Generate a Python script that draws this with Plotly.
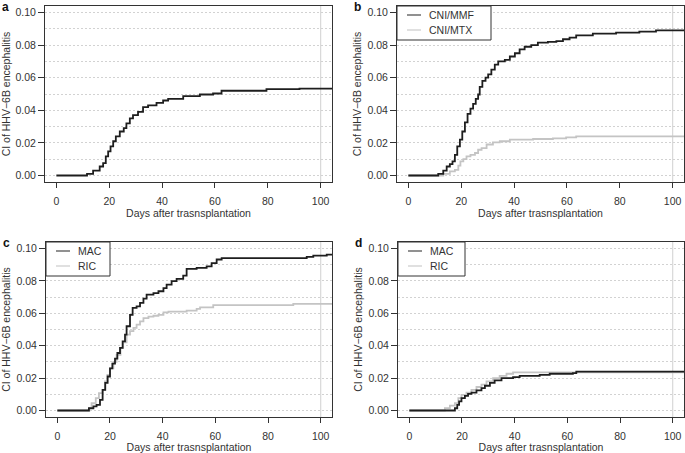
import plotly.graph_objects as go
from plotly.subplots import make_subplots

# cumulative incidence curves, step points (day, CI)
# a: all patients
a_days = [0, 11.6, 13.9, 16.4, 17.7, 18.7, 19.6, 20.5, 21.5, 22.5, 24, 25.5, 26.5, 27.8,
          29, 30.9, 32.8, 34.7, 37.9, 40.4, 42.3, 48, 54.3, 59.3, 62.5, 79.5, 92, 106]
a_ci = [0, 0.001, 0.003, 0.0055, 0.0076, 0.0117, 0.0148, 0.0179, 0.021, 0.024, 0.027, 0.029,
        0.032, 0.035, 0.037, 0.039, 0.042, 0.043, 0.0446, 0.046, 0.047, 0.0487, 0.0497,
        0.0503, 0.052, 0.053, 0.0533, 0.0536]

# b: GVHD prophylaxis
mmf_days = [0, 11.3, 13.2, 14.5, 15.7, 16.7, 17.6, 18.5, 19.5, 20.4, 21.4, 22.4, 23.5, 24.5,
            25.5, 26.4, 27, 28, 29.2, 30.2, 31.4, 32.7, 34, 36.5, 38.4, 40.3, 42.1, 44, 46.5,
            49, 52.8, 56, 58.5, 61, 63.5, 69.8, 78.6, 87.4, 93.7, 106]
mmf_ci = [0, 0.001, 0.003, 0.0055, 0.007, 0.0086, 0.0127, 0.0179, 0.022, 0.027, 0.0326,
          0.0378, 0.041, 0.044, 0.047, 0.0497, 0.0544, 0.058, 0.060, 0.062, 0.065, 0.068,
          0.070, 0.071, 0.073, 0.075, 0.0774, 0.079, 0.080, 0.0815, 0.082, 0.0825, 0.0836,
          0.0846, 0.086, 0.087, 0.0877, 0.0883, 0.089, 0.0897]
mtx_days = [0, 13.2, 15.7, 17.6, 18.9, 19.7, 20.8, 22, 23.5, 25.2, 26.4, 27.7, 29.6, 32,
            34.6, 38.4, 47.2, 54.7, 59.7, 63.5, 106]
mtx_ci = [0, 0.001, 0.0025, 0.0035, 0.006, 0.0086, 0.010, 0.0117, 0.0127, 0.0138, 0.0158,
          0.0168, 0.019, 0.0203, 0.021, 0.022, 0.0224, 0.0228, 0.0234, 0.024, 0.024]

# c: conditioning intensity
c_mac_days = [0, 12, 13.7, 14.9, 16.2, 17.2, 18.2, 19.1, 20, 20.9, 21.9, 22.8, 23.8, 24.8,
              25.7, 26.3, 27.6, 28.6, 30.1, 31.4, 32.7, 33.9, 36.5, 38.4, 40.3, 41.5, 43.4,
              45.3, 47.8, 49.1, 52.9, 56.7, 58.6, 60.5, 62.4, 94.7, 97.2, 102.3, 106]
c_mac_ci = [0, 0.0014, 0.0025, 0.0035, 0.0066, 0.0128, 0.017, 0.021, 0.026, 0.029, 0.032,
            0.0355, 0.0386, 0.0427, 0.0468, 0.052, 0.059, 0.0633, 0.0643, 0.0664, 0.069,
            0.0715, 0.0725, 0.0736, 0.0755, 0.0777, 0.0798, 0.0812, 0.0833, 0.0874, 0.088,
            0.089, 0.091, 0.0932, 0.094, 0.0948, 0.0956, 0.0962, 0.0967]
c_ric_days = [0, 12.2, 13, 14.6, 15.8, 17.2, 18.1, 19, 20, 21.3, 22.5, 24, 25, 26.3, 27.6,
              28.9, 30.1, 31.4, 32.7, 34.6, 36.5, 38.4, 40.3, 42.2, 49.1, 52.9, 54.2, 59.2,
              89.6, 106]
c_ric_ci = [0, 0.0015, 0.0045, 0.0076, 0.0107, 0.0128, 0.018, 0.022, 0.026, 0.030, 0.0344,
            0.0386, 0.042, 0.0468, 0.049, 0.051, 0.053, 0.055, 0.057, 0.058, 0.0585, 0.059,
            0.0606, 0.061, 0.0617, 0.0627, 0.0637, 0.065, 0.0658, 0.066]

# d: conditioning intensity, second cohort
d_mac_days = [0, 17.3, 18.2, 18.9, 19.8, 21.1, 22.3, 23.6, 25.5, 27.4, 28.7, 30.6, 32.4, 35,
              39.4, 41.9, 49.5, 53.3, 62.1, 63.4, 106]
d_mac_ci = [0, 0.0014, 0.0035, 0.0056, 0.0076, 0.009, 0.0103, 0.011, 0.0124, 0.0138, 0.0153,
            0.017, 0.0186, 0.020, 0.0206, 0.0214, 0.022, 0.0227, 0.0231, 0.024, 0.024]
d_ric_days = [0, 13.5, 15.4, 17.3, 18.6, 19.8, 21.7, 23.6, 25.5, 27.4, 29.3, 31.8, 34.3,
              36.9, 39.4, 106]
d_ric_ci = [0, 0.0014, 0.003, 0.0045, 0.0076, 0.0097, 0.011, 0.0128, 0.0145, 0.016, 0.018,
            0.020, 0.0214, 0.0227, 0.0235, 0.0235]

x_ticks = [0, 20, 40, 60, 80, 100]
y_ticks = [0.00, 0.02, 0.04, 0.06, 0.08, 0.10]
panel_letters = ["a", "b", "c", "d"]

BLACK = "#1e1e1e"
GREY = "#c4c4c4"
FONT = "Liberation Sans, Arial, sans-serif"
W, H = 685, 453

fig = make_subplots(rows=2, cols=2)

def step(x, y, color, row, col):
    fig.add_trace(go.Scatter(x=x, y=y, mode="lines", showlegend=False,
                             line=dict(shape="hv", color=color, width=1.8)),
                  row=row, col=col)

# grey lines first so black sits on top
step(a_days, a_ci, BLACK, 1, 1)
step(mtx_days, mtx_ci, GREY, 1, 2)
step(mmf_days, mmf_ci, BLACK, 1, 2)
step(c_ric_days, c_ric_ci, GREY, 2, 1)
step(c_mac_days, c_mac_ci, BLACK, 2, 1)
step(d_ric_days, d_ric_ci, GREY, 2, 2)
step(d_mac_days, d_mac_ci, BLACK, 2, 2)

# plot boxes in pixels (left, right, top, bottom)
boxes = {(1, 1): (45, 332, 6, 182), (1, 2): (397, 684, 6, 182),
         (2, 1): (46, 332, 242, 417), (2, 2): (398, 684, 242, 417)}

grid = dict(gridcolor="#d2d2d2", griddash="2px,2px", gridwidth=1)
for (r, c), (l, rt, t, b) in boxes.items():
    fig.update_xaxes(domain=[l / W, rt / W], range=[-4.3, 104.3], tickvals=x_ticks,
                     ticks="outside", ticklen=5, tickcolor="#333", showline=True,
                     mirror=True, linecolor="#333", linewidth=1, showgrid=False,
                     zeroline=False, automargin=False, ticklabelstandoff=4,
                     tickfont=dict(size=10.5, color="#333"),
                     title=dict(text="Days after trasnsplantation",
                                font=dict(size=10.5, color="#333"), standoff=3),
                     row=r, col=c)
    fig.update_yaxes(domain=[1 - b / H, 1 - t / H], range=[-0.004, 0.104],
                     tickvals=y_ticks, tickformat=".2f", ticks="outside", ticklen=6,
                     tickcolor="#333", showline=True, mirror=True, linecolor="#333",
                     linewidth=1, zeroline=False, showgrid=True, automargin=False, **grid,
                     minor=dict(tickvals=[0.01, 0.03, 0.05, 0.07, 0.09], showgrid=True,
                                **grid),
                     tickfont=dict(size=10.5, color="#333"),
                     title=dict(text="CI of HHV\u22126B encephalitis",
                                font=dict(size=10.5, color="#333"), standoff=3),
                     row=r, col=c)
    fig.add_vline(x=100, line_color="#d8d8d8", line_width=1.2, layer="below", row=r, col=c)

for letter, (l, rt, t, b) in zip(panel_letters, boxes.values()):
    fig.add_annotation(text="<b>%s</b>" % letter, xref="paper", yref="paper",
                       x=(l - 45) / W, y=1 - (t - 8) / H,
                       xanchor="left", yanchor="top", showarrow=False,
                       font=dict(size=12, color="#111", family=FONT))

# legends drawn as framed boxes in the top-left corner of panels b, c, d
legends = [
    ((1, 2), ["CNI/MMF", "CNI/MTX"], 94),
    ((2, 1), ["MAC", "RIC"], 64),
    ((2, 2), ["MAC", "RIC"], 67),
]
for (rc, labels, width) in legends:
    l, rt, t, b = boxes[rc]
    px = lambda x: x / W
    py = lambda y: 1 - y / H
    fig.add_shape(type="rect", xref="paper", yref="paper",
                  x0=px(l), x1=px(l + width), y0=py(t), y1=py(t + 34),
                  line=dict(color="#333", width=1), fillcolor="white", layer="above")
    for i, (lab, col) in enumerate(zip(labels, [BLACK, GREY])):
        yy = t + 9 + 15 * i
        fig.add_shape(type="line", xref="paper", yref="paper",
                      x0=px(l + 10), x1=px(l + 24), y0=py(yy), y1=py(yy),
                      line=dict(color="#555" if col == BLACK else "#d0d0d0", width=1.3),
                      layer="above")
        fig.add_annotation(text=lab, xref="paper", yref="paper", x=px(l + 30), y=py(yy),
                           xanchor="left", yanchor="middle", showarrow=False,
                           font=dict(size=10.5, color="#333", family=FONT))

fig.update_layout(
    width=W, height=H, margin=dict(l=0, r=0, t=0, b=0),
    paper_bgcolor="white", plot_bgcolor="white",
    font=dict(family=FONT, color="#333"),
)

fig.write_html("out.html", config={"displayModeBar": False},
               post_script="document.body.style.margin='0px';")
